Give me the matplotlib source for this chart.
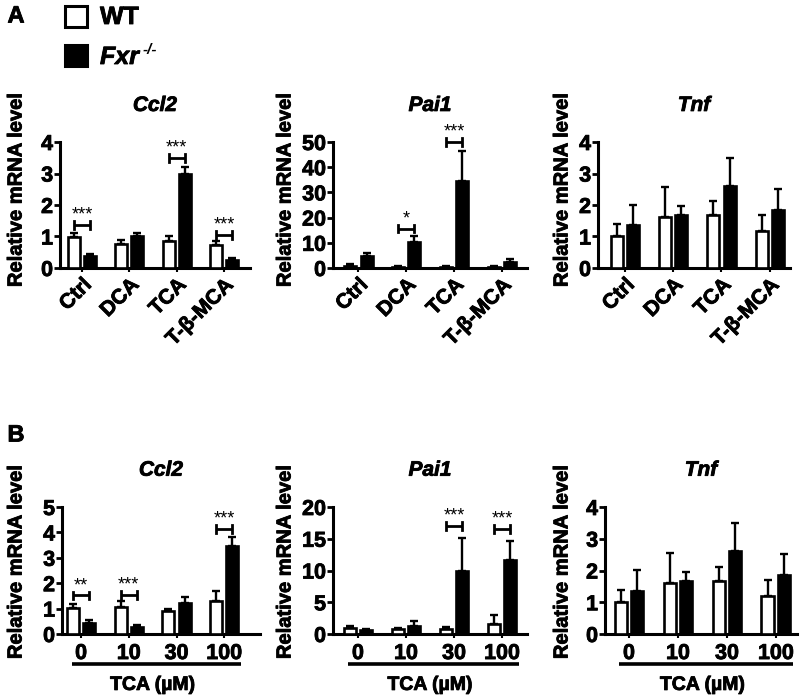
import matplotlib
matplotlib.use("Agg")
import matplotlib.pyplot as plt
import matplotlib.patheffects as pe
from matplotlib.patches import Rectangle
import numpy as np

plt.rcParams['font.family'] = ['Liberation Sans', 'DejaVu Sans']
plt.rcParams['font.weight'] = 'bold'

HEAVY = [pe.withStroke(linewidth=0.6, foreground='black')]

# ---------------- data ----------------
cats_A = ['Ctrl', 'DCA', 'TCA', 'T-β-MCA']
cats_B = ['0', '10', '30', '100']

A_ccl2_wt = [0.97, 0.77, 0.87, 0.72]
A_ccl2_wt_err = [0.13, 0.12, 0.13, 0.14]
A_ccl2_ko = [0.37, 1.02, 3.00, 0.26]
A_ccl2_ko_err = [0.07, 0.08, 0.21, 0.05]

A_pai1_wt = [0.9, 0.5, 0.5, 0.5]
A_pai1_wt_err = [0.5, 0.3, 0.3, 0.3]
A_pai1_ko = [4.6, 10.5, 34.7, 2.2]
A_pai1_ko_err = [1.5, 2.1, 11.8, 1.2]

A_tnf_wt = [1.00, 1.61, 1.68, 1.19]
A_tnf_wt_err = [0.39, 0.95, 0.44, 0.50]
A_tnf_ko = [1.37, 1.68, 2.60, 1.85]
A_tnf_ko_err = [0.64, 0.28, 0.89, 0.66]

B_ccl2_wt = [1.02, 1.08, 0.91, 1.28]
B_ccl2_wt_err = [0.16, 0.22, 0.07, 0.42]
B_ccl2_ko = [0.43, 0.27, 1.21, 3.47]
B_ccl2_ko_err = [0.13, 0.09, 0.26, 0.33]

B_pai1_wt = [0.94, 0.78, 0.78, 1.6]
B_pai1_wt_err = [0.3, 0.2, 0.25, 1.4]
B_pai1_ko = [0.57, 1.2, 9.97, 11.6]
B_pai1_ko_err = [0.15, 0.9, 5.2, 3.1]

B_tnf_wt = [1.00, 1.61, 1.68, 1.19]
B_tnf_wt_err = [0.39, 0.95, 0.44, 0.50]
B_tnf_ko = [1.37, 1.68, 2.60, 1.85]
B_tnf_ko_err = [0.64, 0.28, 0.89, 0.66]

# significance: (group index, label, bracket y)
A_ccl2_sig = [(0, '***', 1.37), (2, '***', 3.5), (3, '***', 1.05)]
A_pai1_sig = [(1, '*', 15.6), (2, '***', 50.0)]
B_ccl2_sig = [(0, '**', 1.52), (1, '***', 1.54), (3, '***', 4.13)]
B_pai1_sig = [(2, '***', 17.0), (3, '***', 16.5)]

W, H = 800, 696
fig = plt.figure(figsize=(8, 6.96), dpi=100)


def px_axes(l, r, top, bot):
    return fig.add_axes([l / W, 1 - bot / H, (r - l) / W, (bot - top) / H])


OFF = 0.17
BW = 0.25


def draw(ax, wt, wte, ko, koe, ymax, step, xlim, title, sig, cats, rotate):
    x = np.arange(len(wt))
    ax.bar(x - OFF, wt, BW, color='white', edgecolor='black', linewidth=1.9, zorder=3)
    ax.bar(x + OFF, ko, BW, color='black', edgecolor='black', linewidth=1.9, zorder=3)
    ax.errorbar(x - OFF, wt, yerr=[np.zeros(len(wt)), wte], fmt='none',
                ecolor='black', elinewidth=1.7, capsize=3, capthick=1.7, zorder=2)
    ax.errorbar(x + OFF, ko, yerr=[np.zeros(len(ko)), koe], fmt='none',
                ecolor='black', elinewidth=1.7, capsize=3, capthick=1.7, zorder=2)
    ax.set_ylim(0, ymax)
    ax.set_xlim(*xlim)
    ax.set_yticks(np.arange(0, ymax + step / 2, step))
    ax.set_xticks(x)
    for s in ['top', 'right']:
        ax.spines[s].set_visible(False)
    for s in ['left', 'bottom']:
        ax.spines[s].set_linewidth(2.2)
    ax.tick_params(axis='y', length=4, width=2, pad=1, labelsize=15.5)
    ax.tick_params(axis='x', length=3, width=1.5)
    if rotate:
        ax.set_xticklabels(cats, rotation=45, ha='right', rotation_mode='anchor',
                           fontsize=15, fontweight='bold')
        ax.tick_params(axis='x', pad=2)
    else:
        ax.set_xticklabels(cats, fontsize=15.5, fontweight='bold')
        ax.tick_params(axis='x', pad=3.5)
    for lab in ax.get_yticklabels() + ax.get_xticklabels():
        lab.set_fontweight('bold')
        lab.set_path_effects(HEAVY)
    ax.text(0.5, 1.29, title, transform=ax.transAxes, ha='center', va='center',
            fontsize=15, fontweight='bold', fontstyle='italic', path_effects=HEAVY)
    # brackets
    cap = ymax * 0.03
    for gi, lab, yb in sig:
        x0, x1 = gi - OFF, gi + OFF
        ax.plot([x0, x1], [yb, yb], color='black', lw=2, clip_on=False,
                solid_capstyle='butt')
        ax.plot([x0, x0], [yb - cap, yb + cap], color='black', lw=2, clip_on=False)
        ax.plot([x1, x1], [yb - cap, yb + cap], color='black', lw=2, clip_on=False)
        ax.annotate(lab, (gi, yb), xytext=(0, 1), textcoords='offset points',
                    ha='center', va='bottom', fontsize=13, fontweight='normal',
                    annotation_clip=False)


# Panel A
axA1 = px_axes(60, 250, 142, 268)
draw(axA1, A_ccl2_wt, A_ccl2_wt_err, A_ccl2_ko, A_ccl2_ko_err, 4, 1,
     (-0.465, 3.55), 'Ccl2', A_ccl2_sig, cats_A, True)
axA2 = px_axes(333, 527, 142, 268)
draw(axA2, A_pai1_wt, A_pai1_wt_err, A_pai1_ko, A_pai1_ko_err, 50, 10,
     (-0.53, 3.52), 'Pai1', A_pai1_sig, cats_A, True)
axA3 = px_axes(598, 790, 142, 268)
draw(axA3, A_tnf_wt, A_tnf_wt_err, A_tnf_ko, A_tnf_ko_err, 4, 1,
     (-0.56, 3.42), 'Tnf', [], cats_A, True)

# Panel B
axB1 = px_axes(62, 260, 507, 634)
draw(axB1, B_ccl2_wt, B_ccl2_wt_err, B_ccl2_ko, B_ccl2_ko_err, 5, 1,
     (-0.4, 3.75), 'Ccl2', B_ccl2_sig, cats_B, False)
axB2 = px_axes(333, 527, 507, 634)
draw(axB2, B_pai1_wt, B_pai1_wt_err, B_pai1_ko, B_pai1_ko_err, 20, 5,
     (-0.52, 3.52), 'Pai1', B_pai1_sig, cats_B, False)
axB3 = px_axes(605, 797, 507, 634)
draw(axB3, B_tnf_wt, B_tnf_wt_err, B_tnf_ko, B_tnf_ko_err, 4, 1,
     (-0.49, 3.43), 'Tnf', [], cats_B, False)

for ax in (axB1, axB2, axB3):
    ax.plot([-0.2, 3.35], [-0.24, -0.24],
            transform=ax.get_xaxis_transform(), color='black', lw=2.6,
            clip_on=False, solid_capstyle='butt')
    ax.text(1.5, -0.405, 'TCA (µM)', transform=ax.get_xaxis_transform(),
            ha='center', va='center', fontsize=14, fontweight='bold',
            path_effects=HEAVY)

# y labels
for xp in (16, 285, 562):
    fig.text(xp / W, 1 - 190 / H, 'Relative mRNA level', rotation=90,
             ha='center', va='center', fontsize=14.5, fontweight='bold',
             path_effects=HEAVY)
    fig.text(xp / W, 1 - 562 / H, 'Relative mRNA level', rotation=90,
             ha='center', va='center', fontsize=14.5, fontweight='bold',
             path_effects=HEAVY)

# panel letters
fig.text(16 / W, 1 - 16 / H, 'A', ha='center', va='center', fontsize=17,
         fontweight='bold', path_effects=HEAVY)
fig.text(16 / W, 1 - 435 / H, 'B', ha='center', va='center', fontsize=17,
         fontweight='bold', path_effects=HEAVY)

# legend
fig.patches.append(Rectangle((65 / W, 1 - 27 / H), 22 / W, 21 / H, transform=fig.transFigure,
                             facecolor='white', edgecolor='black', linewidth=2.2))
fig.patches.append(Rectangle((65 / W, 1 - 66 / H), 22 / W, 21 / H, transform=fig.transFigure,
                             facecolor='black', edgecolor='black', linewidth=2.2))
fig.text(100 / W, 1 - 17 / H, 'WT', ha='left', va='center', fontsize=18,
         fontweight='bold', path_effects=HEAVY)
fig.text(100 / W, 1 - 57 / H, 'Fxr', ha='left', va='center', fontsize=18,
         fontweight='bold', fontstyle='italic', path_effects=HEAVY)
fig.text(143 / W, 1 - 50 / H, '-/-', ha='left', va='center', fontsize=11,
         fontweight='bold', fontstyle='italic')

fig.savefig('out.png', dpi=100)
